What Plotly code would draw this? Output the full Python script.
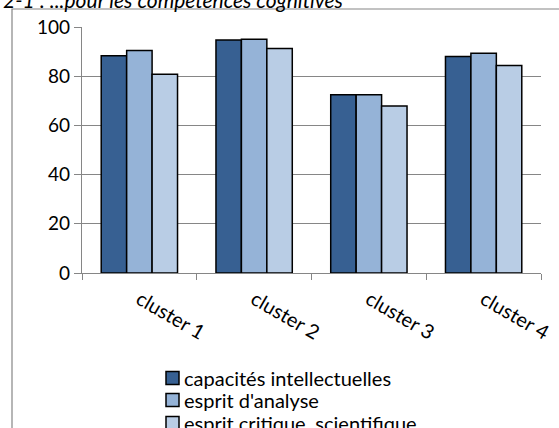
import plotly.graph_objects as go

# Scores per cluster for the three cognitive competences
clusters = ["cluster 1", "cluster 2", "cluster 3", "cluster 4"]
capacites = [88.3, 94.7, 72.5, 88.0]
analyse = [90.4, 95.0, 72.5, 89.3]
critique = [80.8, 91.3, 67.9, 84.4]

series = [
    ("capacités intellectuelles", capacites, "#376092"),
    ("esprit d'analyse", analyse, "#95B3D7"),
    ("esprit critique, scientifique", critique, "#B9CDE5"),
]

W, H = 559, 428
L, R, T, B = 82, 18, 27, 155
FONT = "Lato"

fig = go.Figure()
for name, vals, col in series:
    fig.add_trace(go.Bar(
        x=clusters, y=vals, name=name, showlegend=False,
        marker=dict(color=col, line=dict(color="#000000", width=1.5)),
    ))

def px_x(p):
    return (p - L) / (W - L - R)

def px_y(p):
    return 1 - (p - T) / (H - T - B)

# outer chart frame
fig.add_shape(type="rect", xref="paper", yref="paper",
              x0=px_x(12), x1=px_x(575), y0=px_y(9), y1=px_y(440),
              line=dict(color="#868686", width=1.2), fillcolor="rgba(0,0,0,0)",
              layer="below")

# caption above the frame
fig.add_annotation(xref="paper", yref="paper", x=px_x(1), y=px_y(-1),
                   xanchor="left", yanchor="middle", showarrow=False,
                   text="<i>2-1 : ...pour les compétences cognitives</i>",
                   font=dict(family=FONT, size=21, color="#000000"))

# legend drawn below the axis: swatch + label per series
row_y = [378, 400, 423]
for (name, _, col), yc in zip(series, row_y):
    fig.add_shape(type="rect", xref="paper", yref="paper",
                  x0=px_x(166), x1=px_x(179), y0=px_y(yc - 6.5), y1=px_y(yc + 6.5),
                  line=dict(color="#000000", width=1.5), fillcolor=col)
    fig.add_annotation(xref="paper", yref="paper", x=px_x(182), y=px_y(yc),
                       xanchor="left", yanchor="middle", showarrow=False,
                       text=name, font=dict(family=FONT, size=20, color="#000000"))

fig.update_layout(
    template="none",
    width=W, height=H,
    margin=dict(l=L, r=R, t=T, b=B, autoexpand=False),
    paper_bgcolor="white", plot_bgcolor="white",
    barmode="group", bargap=0.335, bargroupgap=0,
    font=dict(family=FONT, size=18, color="#000000"),
    showlegend=False,
    xaxis=dict(automargin=False, showgrid=False, showline=True,
               linecolor="#868686", linewidth=1.2,
               ticks="outside", tickson="boundaries", ticklen=6,
               tickcolor="#868686", tickwidth=1.2, tickangle=30,
               ticklabelstandoff=6,
               tickfont=dict(family=FONT, size=20)),
    yaxis=dict(automargin=False, range=[0, 100], tickvals=[0, 20, 40, 60, 80, 100],
               showgrid=True, gridcolor="#868686", gridwidth=1.2,
               showline=True, linecolor="#868686", linewidth=1.2,
               ticks="outside", ticklen=7, tickcolor="#868686", tickwidth=1.2,
               zeroline=False, tickfont=dict(family=FONT, size=19)),
)

fig.write_html("out.html")
